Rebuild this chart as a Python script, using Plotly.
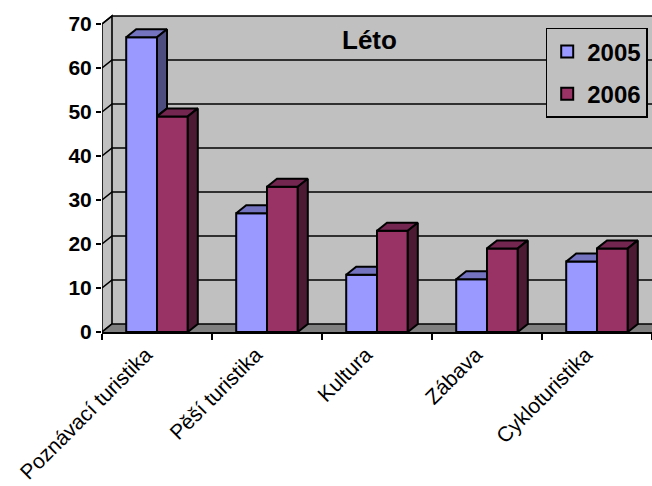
import plotly.graph_objects as go

# Summer (Léto) – share of holiday types, 2005 vs 2006
categories = ["Poznávací turistika", "Pěší turistika", "Kultura", "Zábava", "Cykloturistika"]
values_2005 = [67, 27, 13, 12, 16]
values_2006 = [49, 33, 23, 19, 19]
y_ticks = [0, 10, 20, 30, 40, 50, 60, 70]
series_names = ["2005", "2006"]

FONT = "Liberation Sans, Arial, sans-serif"
W, H = 652, 486
ML, MT, MB, MR = 102, 13.4, 154.3, 0
X_RANGE = (-0.5, 4.5)
Y_RANGE = (0, 72.5)
Y_TOP = y_ticks[-1]

# pixel scale of both axes, used to express the 3-D depth offset in data units
px_per_x = (W - ML - MR) / (X_RANGE[1] - X_RANGE[0])
px_per_y = (H - MT - MB) / (Y_RANGE[1] - Y_RANGE[0])
DX = 10 / px_per_x
DY = 8 / px_per_y
BAR_W = 0.28

front = {"2005": "#9999FF", "2006": "#993366"}
top_c = {"2005": "#7373BF", "2006": "#732650"}
side_c = {"2005": "#4D4D80", "2006": "#4D1A33"}

WALL = "#C0C0C0"
FLOOR = "#808080"
EDGE = "black"


def poly(points):
    return "M" + " L".join(f"{x},{y}" for x, y in points) + " Z"


def line_path(points):
    return "M" + " L".join(f"{x},{y}" for x, y in points)


x0, x1 = X_RANGE
shapes = []
# back wall
shapes.append(dict(type="path", xref="x", yref="y", layer="below",
                   path=poly([(x0 + DX, DY), (x1 + DX + 1, DY), (x1 + DX + 1, Y_TOP + DY), (x0 + DX, Y_TOP + DY)]),
                   fillcolor=WALL, line=dict(width=0)))
# left side wall
shapes.append(dict(type="path", xref="x", yref="y", layer="below",
                   path=poly([(x0, 0), (x0 + DX, DY), (x0 + DX, Y_TOP + DY), (x0, Y_TOP)]),
                   fillcolor=WALL, line=dict(color=EDGE, width=1.6)))
# floor
shapes.append(dict(type="path", xref="x", yref="y", layer="below",
                   path=poly([(x0, 0), (x1 + 1, 0), (x1 + 1 + DX, DY), (x0 + DX, DY)]),
                   fillcolor=FLOOR, line=dict(width=0)))
# gridlines running over the side wall and the back wall
for v in y_ticks:
    shapes.append(dict(type="path", xref="x", yref="y", layer="below",
                       path=line_path([(x0, v), (x0 + DX, v + DY), (x1 + DX + 1, v + DY)]),
                       line=dict(color=EDGE, width=1.6)))

fig = go.Figure()

series = {"2005": values_2005, "2006": values_2006}
offsets = {"2005": -BAR_W, "2006": 0.0}

# front faces of the bars
for name in series_names:
    fig.add_trace(go.Bar(
        x=list(range(len(categories))), y=series[name], name=name,
        width=BAR_W, offset=offsets[name], legendgroup=name,
        marker=dict(color=front[name], line=dict(color=EDGE, width=2)),
        hoverinfo="skip",
    ))


def face(points, color):
    xs = [p[0] for p in points] + [points[0][0]]
    ys = [p[1] for p in points] + [points[0][1]]
    fig.add_trace(go.Scatter(x=xs, y=ys, mode="lines", fill="toself", fillcolor=color,
                             line=dict(color=EDGE, width=2), showlegend=False, hoverinfo="skip"))


# top and side faces; the 2005 faces are trimmed where the 2006 bar stands in front of them
for i in range(len(categories)):
    v5, v6 = values_2005[i], values_2006[i]
    l5, r5 = i - BAR_W, i
    l6, r6 = i, i + BAR_W
    if v5 > v6:
        face([(l5, v5), (r5, v5), (r5 + DX, v5 + DY), (l5 + DX, v5 + DY)], top_c["2005"])
        face([(r5, v6), (r5 + DX, v6 + DY), (r5 + DX, v5 + DY), (r5, v5)], side_c["2005"])
    else:
        face([(l5, v5), (r5, v5), (r5, v5 + DY), (l5 + DX, v5 + DY)], top_c["2005"])
    face([(l6, v6), (r6, v6), (r6 + DX, v6 + DY), (l6 + DX, v6 + DY)], top_c["2006"])
    face([(r6, 0), (r6 + DX, DY), (r6 + DX, v6 + DY), (r6, v6)], side_c["2006"])

fig.update_layout(
    width=W, height=H,
    margin=dict(l=ML, r=MR, t=MT, b=MB, autoexpand=False),
    paper_bgcolor="white", plot_bgcolor="white",
    barmode="overlay",
    shapes=shapes,
    showlegend=True,
    legend=dict(
        x=(545.7 - ML) / (W - ML - MR), y=(H - MB - 28.3) / (H - MT - MB),
        xanchor="left", yanchor="top",
        bgcolor=WALL, bordercolor=EDGE, borderwidth=1.5,
        font=dict(family=FONT, size=24, color="black", weight="bold"),
        traceorder="grouped", tracegroupgap=8,
    ),
    annotations=[dict(
        text="<b>Léto</b>", xref="paper", yref="paper",
        x=(369 - ML) / (W - ML - MR), y=(H - MB - 40) / (H - MT - MB),
        xanchor="center", yanchor="middle", showarrow=False,
        font=dict(family=FONT, size=26, color="black"),
    )],
    xaxis=dict(
        range=list(X_RANGE), showgrid=False, zeroline=False,
        showline=True, linecolor=EDGE, linewidth=2,
        tickmode="array", tickvals=list(range(len(categories))), ticktext=categories,
        tickangle=-45, ticks="outside", ticklen=0, ticklabelshift=-11,
        tickfont=dict(family=FONT, size=21, color="black"),
        minor=dict(tickmode="array", tickvals=[k - 0.5 for k in range(len(categories) + 1)],
                   ticks="outside", ticklen=6, tickwidth=2, tickcolor=EDGE, showgrid=False),
        fixedrange=True,
    ),
    yaxis=dict(
        range=list(Y_RANGE), showgrid=False, zeroline=False, showline=False,
        tickmode="array", tickvals=y_ticks,
        ticks="outside", ticklen=5, tickwidth=2, tickcolor=EDGE,
        tickfont=dict(family=FONT, size=21, color="black", weight="bold"),
        fixedrange=True,
    ),
)

fig.write_html("out.html")
